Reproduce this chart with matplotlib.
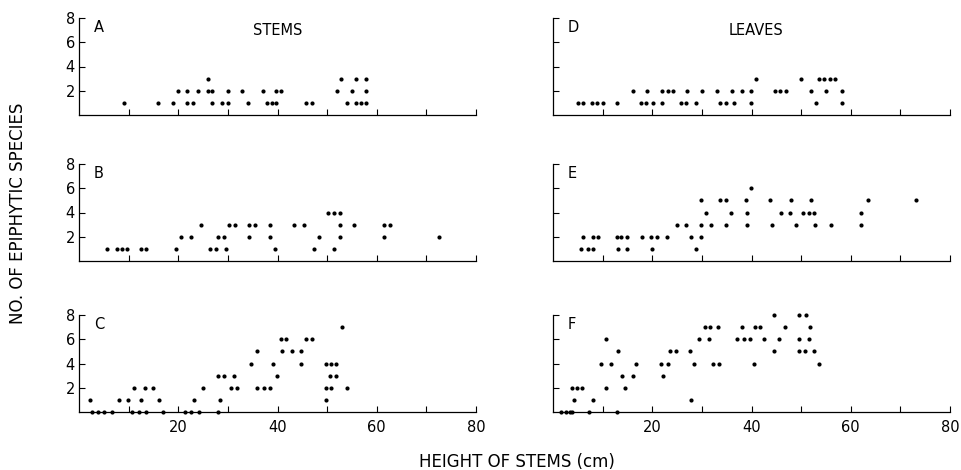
import matplotlib.pyplot as plt

# values: x = height of stems (cm), y = no. of epiphytic species
a_x = [9.1, 16.0, 19.0, 19.9, 21.8, 21.8, 23.0, 24.0, 25.9, 26.0, 26.9, 26.9,
       28.8, 30.0, 30.0, 32.9, 34.1, 37.0, 37.8, 38.8, 39.7, 39.7, 40.7, 45.8,
       47.0, 52.0, 52.8, 54.0, 55.0, 55.8, 55.8, 56.9, 57.8, 57.8, 57.8]
a_y = [1, 1, 1, 2, 2, 1, 1, 2, 2, 3, 2, 1,
       1, 1, 2, 2, 1, 2, 1, 1, 2, 1, 2, 1,
       1, 2, 3, 1, 2, 3, 1, 1, 3, 2, 1]

b_x = [5.6, 7.6, 8.7, 9.7, 12.5, 13.5, 19.6, 20.6, 22.6, 24.6, 26.4, 27.6, 28.1,
       29.3, 29.6, 30.2, 31.5, 34.3, 34.3, 35.5, 38.5, 38.5, 39.5, 43.3, 45.4,
       47.4, 48.4, 50.1, 51.3, 52.5, 51.3, 52.5, 52.5, 55.4, 61.5, 62.6, 61.5, 72.6]
b_y = [1, 1, 1, 1, 1, 1, 1, 2, 2, 3, 1, 1, 2,
       2, 1, 3, 3, 3, 2, 3, 3, 2, 1, 3, 3,
       1, 2, 4, 4, 4, 1, 3, 2, 3, 3, 3, 2, 2]

c_x = [2.2, 2.6, 3.9, 5.1, 6.7, 8.1, 9.8, 10.7, 11.1, 12.0, 12.5, 13.2, 13.6,
       14.9, 16.1, 16.9, 21.4, 22.5, 23.2, 24.1, 24.9, 28.0, 28.1, 28.5, 29.2,
       30.6, 31.2, 31.9, 34.6, 35.8, 35.8, 37.3, 38.5, 39.0, 39.8, 40.7, 41.7,
       40.9, 42.9, 44.8, 44.8, 45.7, 46.9, 49.7, 49.7, 49.8, 50.8, 50.8, 50.6,
       51.8, 51.8, 52.9, 54.1]
c_y = [1, 0, 0, 0, 0, 1, 1, 0, 2, 0, 1, 2, 0,
       2, 1, 0, 0, 0, 1, 0, 2, 3, 0, 1, 3,
       2, 3, 2, 4, 5, 2, 2, 2, 4, 3, 6, 6,
       5, 5, 5, 4, 6, 6, 4, 2, 1, 4, 2, 3,
       4, 3, 7, 2]

d_x = [5.1, 6.1, 7.8, 8.9, 10.1, 12.9, 17.8, 18.8, 20.1, 21.9, 25.8, 26.9, 28.9,
       33.6, 34.8, 36.5, 39.8, 53.0, 58.2,
       16.2, 19.0, 21.9, 23.1, 24.1, 27.0, 30.0, 33.0, 36.0, 38.0, 39.8, 44.7,
       45.7, 46.9, 52.0, 55.0, 58.2,
       40.9, 49.9, 53.6, 54.7, 55.8, 56.9]
d_y = [1, 1, 1, 1, 1, 1, 1, 1, 1, 1, 1, 1, 1,
       1, 1, 1, 1, 1, 1,
       2, 2, 2, 2, 2, 2, 2, 2, 2, 2, 2, 2,
       2, 2, 2, 2, 2,
       3, 3, 3, 3, 3, 3]

e_x = [5.7, 7.0, 8.0, 13.0, 14.9, 20.0, 28.9,
       6.1, 8.0, 9.1, 12.8, 13.8, 14.9, 18.0, 19.7, 20.9, 22.9, 27.9, 29.9,
       24.9, 26.9, 29.8, 31.8, 34.8, 39.0, 44.1, 48.9, 52.8, 56.0, 62.0,
       30.8, 35.8, 39.0, 45.9, 47.7, 50.4, 51.5, 52.6, 62.0,
       29.8, 33.6, 34.8, 38.9, 43.7, 47.9, 51.9, 63.5, 73.1,
       39.8]
e_y = [1, 1, 1, 1, 1, 1, 1,
       2, 2, 2, 2, 2, 2, 2, 2, 2, 2, 2, 2,
       3, 3, 3, 3, 3, 3, 3, 3, 3, 3, 3,
       4, 4, 4, 4, 4, 4, 4, 4, 4,
       5, 5, 5, 5, 5, 5, 5, 5, 5,
       6]

f_x = [1.7, 2.6, 3.4, 3.9, 7.3, 12.8,
       4.2, 8.1, 27.8,
       3.9, 4.9, 5.9, 10.6, 14.6,
       14.0, 16.2, 22.2,
       9.6, 11.7, 16.8, 21.7, 23.2, 28.4, 32.3, 33.4, 40.5, 53.6,
       13.1, 23.5, 24.8, 27.6, 44.6, 49.6, 50.8, 52.6,
       10.6, 29.4, 31.4, 37.1, 38.5, 39.7, 42.6, 45.5, 49.6, 51.6,
       30.6, 31.6, 33.2, 38.1, 40.7, 41.8, 46.7, 51.8,
       44.6, 49.6, 51.0]
f_y = [0, 0, 0, 0, 0, 0,
       1, 1, 1,
       2, 2, 2, 2, 2,
       3, 3, 3,
       4, 4, 4, 4, 4, 4, 4, 4, 4, 4,
       5, 5, 5, 5, 5, 5, 5, 5,
       6, 6, 6, 6, 6, 6, 6, 6, 6, 6,
       7, 7, 7, 7, 7, 7, 7, 7,
       8, 8, 8]

letters = ['A', 'B', 'C', 'D', 'E', 'F']
x_ticks = [10, 20, 30, 40, 50, 60, 70, 80]
x_ticklabels = ['', '20', '', '40', '', '60', '', '80']
y_ticks = [2, 4, 6, 8]

panels = [(a_x, a_y), (b_x, b_y), (c_x, c_y), (d_x, d_y), (e_x, e_y), (f_x, f_y)]

fig = plt.figure(figsize=(9.61, 4.70), dpi=100)

lefts = [79 / 961, 553 / 961]
width = 397 / 961
bottoms = [1 - 115 / 470, 1 - 261 / 470, 1 - 412 / 470]
height = 97 / 470

for i, (xs, ys) in enumerate(panels):
    col = i // 3
    row = i % 3
    ax = fig.add_axes([lefts[col], bottoms[row], width, height])
    ax.scatter(xs, ys, s=9, c='black', linewidths=0, clip_on=False, zorder=3)
    ax.set_xlim(0, 80)
    ax.set_ylim(0, 8)
    ax.spines['top'].set_visible(False)
    ax.spines['right'].set_visible(False)
    ax.spines['left'].set_linewidth(0.9)
    ax.spines['bottom'].set_linewidth(0.9)
    ax.set_xticks(x_ticks)
    if row == 2:
        ax.set_xticklabels(x_ticklabels)
    else:
        ax.set_xticklabels([])
    ax.set_yticks(y_ticks)
    if col == 0:
        ax.set_yticklabels([str(t) for t in y_ticks])
    else:
        ax.set_yticklabels([])
    ax.tick_params(axis='both', direction='in', length=4, width=0.8,
                   labelsize=10.5, colors='black')
    ax.tick_params(axis='x', pad=6)
    ax.tick_params(axis='y', pad=3)
    ax.text(3, 7.2, letters[i], fontsize=10.5, va='center', ha='left')
    if i == 0:
        ax.text(40, 7.0, 'STEMS', fontsize=10.5, va='center', ha='center')
    if i == 3:
        ax.text(41, 7.0, 'LEAVES', fontsize=10.5, va='center', ha='center')

fig.text(18 / 961, 1 - 213 / 470, 'NO. OF EPIPHYTIC SPECIES', rotation=90,
         fontsize=12, va='center', ha='center')
fig.text(517 / 961, 1 - 462 / 470, 'HEIGHT OF STEMS (cm)', fontsize=12,
         va='center', ha='center')

plt.savefig('out.png', dpi=100)
